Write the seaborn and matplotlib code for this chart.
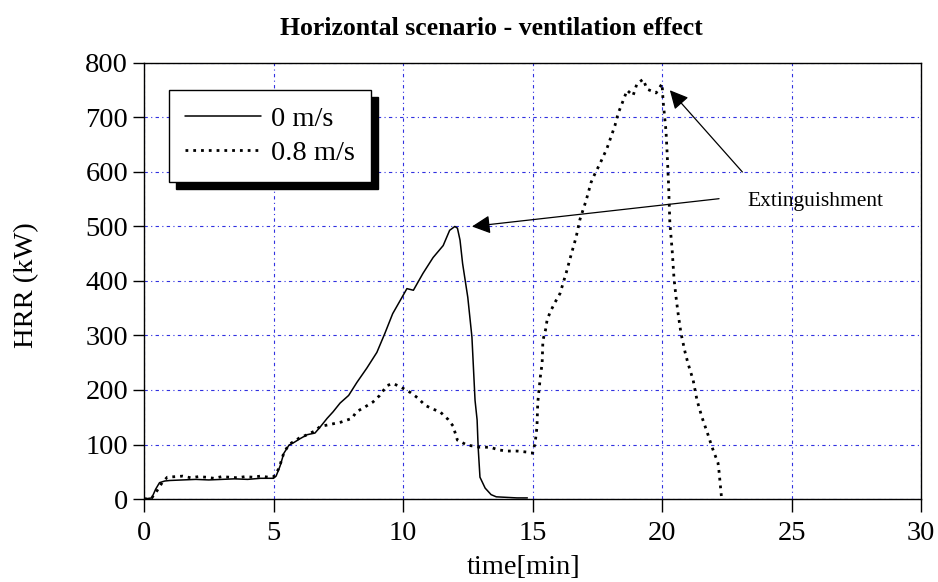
import matplotlib
matplotlib.use("Agg")
import matplotlib.pyplot as plt
import seaborn as sns
import pandas as pd

# ---- data ----
t_0 = [0, 0.3, 0.45, 0.6, 0.8, 1.0, 1.5, 2.0, 2.5, 3.0, 3.5, 4.0, 4.5, 5.0, 5.1, 5.25,
       5.4, 5.6, 5.8, 6.0, 6.3, 6.6, 6.8, 7.07, 7.3, 7.57, 7.9, 8.22, 8.6, 8.99, 9.3,
       9.6, 9.9, 10.15, 10.4, 10.77, 11.16, 11.55, 11.8, 12.0, 12.1, 12.2, 12.3, 12.5,
       12.66, 12.78, 12.86, 12.9, 12.97, 13.17, 13.4, 13.6, 14.0, 14.4, 14.8]
hrr_0 = [0, 2, 18, 30, 33, 34, 35, 36, 35, 36, 37, 36, 38, 38, 42, 60,
         84, 99, 104, 110, 118, 121, 132, 148, 160, 176, 190, 214, 240, 269, 304,
         340, 365, 386, 383, 414, 443, 465, 493, 500, 497, 475, 432, 370,
         297, 181, 145, 95, 40, 20, 8, 4, 3, 2, 2]

t_08 = [0, 0.3, 0.5, 0.7, 0.9, 1.2, 1.5, 1.8, 2.1, 2.4, 2.7, 3.0, 3.3, 3.6, 3.9, 4.2,
        4.5, 4.8, 5.0, 5.1, 5.25, 5.4, 5.6, 5.8, 6.0, 6.3, 6.6, 6.8, 7.2, 7.6, 8.03,
        8.2, 8.5, 8.84, 9.1, 9.38, 9.6, 9.8, 10.0, 10.3, 10.58, 10.85, 11.15, 11.43,
        11.74, 11.93, 12.1, 12.47, 12.97, 13.36, 13.7, 14.0, 14.4, 14.8, 15.0, 15.1,
        15.17, 15.2, 15.3, 15.37, 15.4, 15.5, 15.56, 15.68, 15.87, 16.06, 16.3, 16.5,
        16.68, 16.83, 17.07, 17.26, 17.41, 17.6, 17.87, 18.07, 18.18, 18.3, 18.45,
        18.65, 18.88, 19.03, 19.27, 19.42, 19.77, 20.0, 20.04, 20.15, 20.19, 20.25,
        20.3, 20.39, 20.46, 20.54, 20.62, 20.73, 20.89, 21.0, 21.2, 21.35, 21.54,
        21.78, 21.93, 22.16, 22.2, 22.3]
hrr_08 = [0, 2, 15, 30, 40, 41, 42, 39, 41, 40, 38, 41, 40, 39, 41, 40,
          42, 40, 41, 45, 62, 85, 100, 106, 112, 118, 125, 133, 137, 141, 148,
          160, 168, 178, 190, 208, 212, 208, 203, 195, 185, 172, 165, 160,
          146, 134, 108, 99, 95, 95, 90, 88, 88, 86, 84, 103,
          132, 176, 224, 249, 291, 310, 328, 343, 361, 377, 415, 450,
          480, 513, 548, 581, 597, 615, 643, 670, 685, 707, 725,
          750, 740, 762, 770, 752, 745, 762, 730, 676, 640, 578,
          507, 456, 405, 370, 340, 304, 269, 249, 218, 181, 150,
          117, 95, 66, 50, 0]

labels = ["0 m/s", "0.8 m/s"]
x_ticks = [0, 5, 10, 15, 20, 25, 30]
y_ticks = [0, 100, 200, 300, 400, 500, 600, 700, 800]

df0 = pd.DataFrame({"time": t_0, "HRR": hrr_0})
df8 = pd.DataFrame({"time": t_08, "HRR": hrr_08})

sns.set_style("white")
plt.rcParams["font.family"] = ["Liberation Serif", "DejaVu Serif"]
plt.rcParams["text.color"] = "black"
plt.rcParams["axes.labelcolor"] = "black"

fig = plt.figure(figsize=(9.38, 5.82), dpi=100)
ax = fig.add_axes([0.1535, 0.1426, 0.8285, 0.7492])

sns.lineplot(data=df0, x="time", y="HRR", ax=ax, color="black", lw=1.1,
             estimator=None, label=labels[0])
sns.lineplot(data=df8, x="time", y="HRR", ax=ax, color="black", lw=2.0,
             linestyle=(0, (1.0, 1.8)), estimator=None, label=labels[1])

ax.set_xlim(0, 30)
ax.set_ylim(0, 800)
ax.set_xticks(x_ticks)
ax.set_yticks(y_ticks)
ax.set_xlabel("")
ax.set_ylabel("")

ax.grid(True, color="#3030e0", linestyle=(0, (3, 3, 1, 3)), linewidth=0.8)
ax.set_axisbelow(True)
for s in ax.spines.values():
    s.set_color("black")
    s.set_linewidth(1.0)
    s.set_visible(True)

ax.tick_params(axis="x", direction="out", length=9, width=1, pad=7,
               labelsize=20.5, colors="black", bottom=True)
ax.tick_params(axis="y", direction="out", length=8, width=1, pad=3.5,
               labelsize=20.5, colors="black", left=True)

leg = ax.legend(loc="upper left", bbox_to_anchor=(0.032, 0.938), fontsize=20.5,
                frameon=True, fancybox=False, edgecolor="black", framealpha=1,
                shadow={"color": "black", "alpha": 1, "ox": 5, "oy": -5},
                handlelength=2.7, handletextpad=0.35, borderpad=0.55,
                labelspacing=0.3, borderaxespad=0)
leg.get_frame().set_linewidth(1.0)
for txt in leg.get_texts():
    txt.set_color("black")

ax.annotate("", xy=(12.66, 500), xytext=(22.2, 551),
            arrowprops=dict(arrowstyle="-|>", color="black", lw=0.9,
                            mutation_scale=28, shrinkA=0, shrinkB=0))
ax.annotate("", xy=(20.3, 750), xytext=(23.1, 600),
            arrowprops=dict(arrowstyle="-|>", color="black", lw=0.9,
                            mutation_scale=28, shrinkA=0, shrinkB=0))
ax.text(23.3, 546, "Extinguishment", fontsize=15.5, va="center", ha="left",
        color="black")

fig.text(491 / 938, 1 - 35 / 582, "Horizontal scenario - ventilation effect",
         fontsize=18.5, fontweight="bold", ha="center", va="baseline",
         color="black")
fig.text(524 / 938, 1 - 574 / 582, "time[min]", fontsize=20.5, ha="center",
         va="baseline", color="black")
fig.text(27 / 938, 1 - 285 / 582, "HRR (kW)", fontsize=20.5, rotation=90,
         ha="center", va="center", color="black")

fig.savefig("out.png", dpi=100)
